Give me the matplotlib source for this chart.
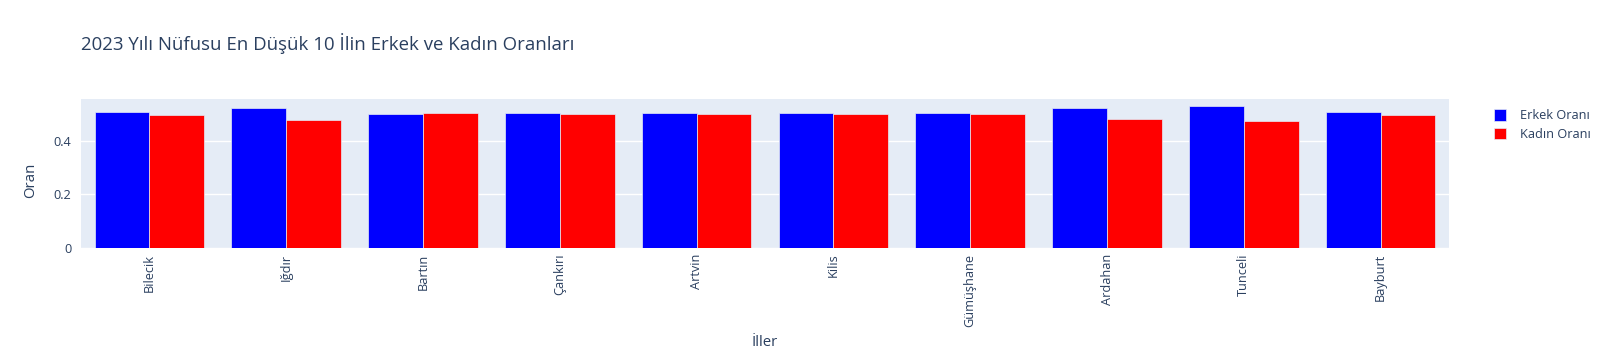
import matplotlib
matplotlib.use("Agg")
import matplotlib.pyplot as plt
import numpy as np

iller = ["Bilecik", "Iğdır", "Bartın", "Çankırı", "Artvin", "Kilis",
         "Gümüşhane", "Ardahan", "Tunceli", "Bayburt"]
erkek = [0.506, 0.522, 0.497, 0.501, 0.501, 0.503, 0.502, 0.520, 0.527, 0.506]
kadin = [0.494, 0.478, 0.503, 0.499, 0.499, 0.497, 0.498, 0.480, 0.473, 0.494]

TXT = "#2a3f5f"
plt.rcParams['font.family'] = ['Open Sans', 'DejaVu Sans']

W, H = 1605, 360
fig = plt.figure(figsize=(W / 100, H / 100), dpi=100)
l, r, t, b = 81, 1449, 99, 248
ax = fig.add_axes([l / W, 1 - b / H, (r - l) / W, (b - t) / H])
ax.set_facecolor("#E5ECF6")

x = np.arange(len(iller))
w = 0.4
ax.bar(x - w / 2, erkek, w, color="blue", edgecolor="#E5ECF6", linewidth=0.5, label="Erkek Oranı", zorder=3)
ax.bar(x + w / 2, kadin, w, color="red", edgecolor="#E5ECF6", linewidth=0.5, label="Kadın Oranı", zorder=3)

ax.set_xlim(-0.5, len(iller) - 0.5)
ax.set_ylim(0, 0.5545)
ax.set_yticks([0, 0.2, 0.4])
ax.set_yticklabels(["0", "0.2", "0.4"])
ax.grid(axis="y", color="white", linewidth=1, zorder=0)
ax.set_axisbelow(True)
for s in ax.spines.values():
    s.set_visible(False)
ax.tick_params(axis="both", length=0, colors=TXT, labelsize=9.2)
ax.tick_params(axis="y", pad=7)
ax.tick_params(axis="x", pad=4)
ax.set_xticks(x)
ax.set_xticklabels(iller, rotation=90)

fig.text(81 / W, 1 - 44 / H, "2023 Yılı Nüfusu En Düşük 10 İlin Erkek ve Kadın Oranları",
         fontsize=13.4, color=TXT, va="center", ha="left")
fig.text(31 / W, 1 - 180 / H, "Oran", fontsize=10.8, color=TXT, rotation=90, va="center", ha="center")
fig.text((l + r) / 2 / W, 1 - 343 / H, "İller", fontsize=10.8, color=TXT, va="center", ha="center")

leg = ax.legend(loc="upper left", bbox_to_anchor=(1489 / W, 1 - 104 / H), bbox_transform=fig.transFigure,
                frameon=False, fontsize=9.2, handlelength=0.9, handleheight=1.0, handletextpad=1.1,
                labelspacing=0.45, borderaxespad=0)
for tx in leg.get_texts():
    tx.set_color(TXT)

fig.savefig("out.png", dpi=100, facecolor="white")
